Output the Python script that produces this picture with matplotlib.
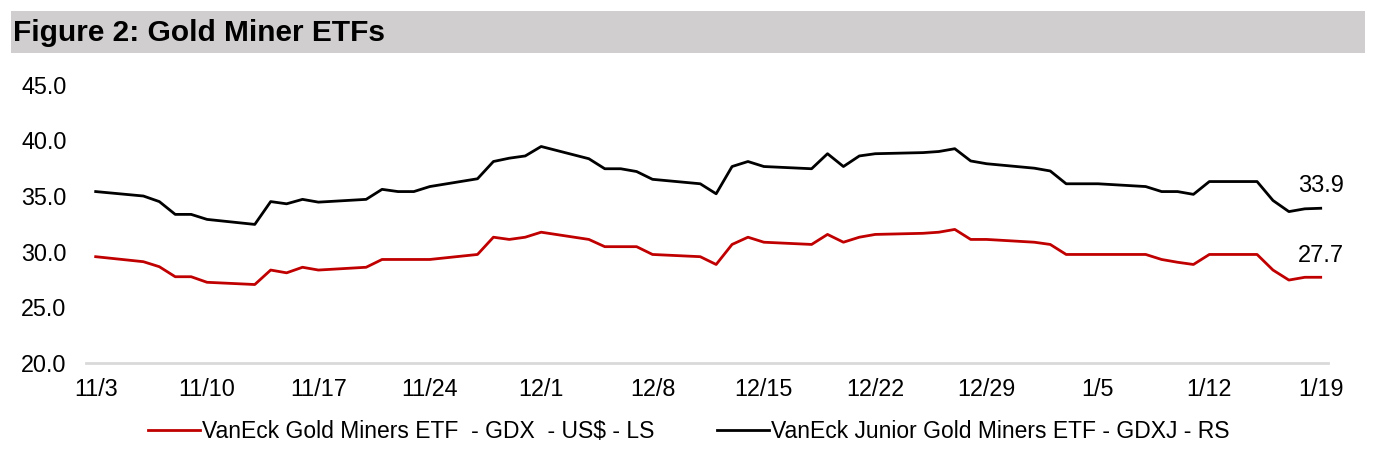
import matplotlib
matplotlib.use('Agg')
import matplotlib.pyplot as plt
from matplotlib.patches import Rectangle
import pandas as pd

plt.rcParams['font.family'] = ['Liberation Sans', 'DejaVu Sans']

dates = pd.bdate_range('2023-11-03', '2024-01-19')

gdx = [29.55, 29.1, 28.65, 27.75, 27.75, 27.25, 27.05, 28.35, 28.1, 28.6,
       28.35, 28.6, 29.3, 29.3, 29.3, 29.3, 29.75, 31.3, 31.1, 31.3,
       31.75, 31.1, 30.45, 30.45, 30.45, 29.75, 29.55, 28.85, 30.65, 31.3,
       30.85, 30.65, 31.55, 30.85, 31.3, 31.55, 31.65, 31.75, 32.0, 31.1,
       31.1, 30.85, 30.65, 29.75, 29.75, 29.75, 29.75, 29.3, 29.05, 28.85,
       29.75, 29.75, 28.35, 27.45, 27.7, 27.7]

gdxj = [35.4, 35.0, 34.5, 33.35, 33.35, 32.9, 32.45, 34.5, 34.3, 34.7,
        34.45, 34.7, 35.6, 35.4, 35.4, 35.85, 36.55, 38.1, 38.4, 38.6,
        39.45, 38.35, 37.45, 37.45, 37.2, 36.5, 36.1, 35.2, 37.65, 38.1,
        37.65, 37.45, 38.8, 37.65, 38.6, 38.8, 38.9, 39.0, 39.25, 38.15,
        37.9, 37.5, 37.25, 36.1, 36.1, 36.1, 35.85, 35.4, 35.4, 35.15,
        36.3, 36.3, 34.6, 33.6, 33.85, 33.9]

tick_dates = pd.date_range('2023-11-03', '2024-01-19', freq='7D')
tick_labels = ['11/3', '11/10', '11/17', '11/24', '12/1', '12/8', '12/15',
               '12/22', '12/29', '1/5', '1/12', '1/19']

labelGdx = 'VanEck Gold Miners ETF  - GDX  - US$ - LS'
labelGdxj = 'VanEck Junior Gold Miners ETF - GDXJ - RS'

fig = plt.figure(figsize=(13.75, 4.51), dpi=100)

# grey title band
fig.patches.append(Rectangle((11/1375, 1-53/451), 1354/1375, 42/451,
                             transform=fig.transFigure, facecolor='#D0CECE',
                             edgecolor='none', zorder=0))
fig.text(13/1375, 1-33/451, 'Figure 2: Gold Miner ETFs', fontsize=21.5,
         fontweight='bold', va='center', ha='left')

ax = fig.add_axes([86/1375, 88/451, (1328-86)/1375, (363-84.7)/451])

ax.plot(dates, gdx, color='#C00000', lw=2, label=labelGdx)
ax.plot(dates, gdxj, color='black', lw=2, label=labelGdxj)

ax.annotate('%.1f' % gdxj[-1], (dates[-1], gdxj[-1]), xytext=(0, 16),
            textcoords='offset points', ha='center', va='center', fontsize=17)
ax.annotate('%.1f' % gdx[-1], (dates[-1], gdx[-1]), xytext=(0, 15),
            textcoords='offset points', ha='center', va='center', fontsize=17)

ax.set_ylim(20, 45)
ax.set_yticks([20, 25, 30, 35, 40, 45])
ax.set_yticklabels(['%.1f' % v for v in [20, 25, 30, 35, 40, 45]])
ax.set_xlim(dates[0] - pd.Timedelta(hours=14.6), dates[-1] + pd.Timedelta(hours=11))
ax.set_xticks(tick_dates)
ax.set_xticklabels(tick_labels)

for s in ['top', 'right', 'left']:
    ax.spines[s].set_visible(False)
ax.spines['bottom'].set_color('#D9D9D9')
ax.spines['bottom'].set_linewidth(2)
ax.tick_params(axis='both', length=0, labelsize=16.8)
ax.tick_params(axis='y', pad=14)
ax.tick_params(axis='x', pad=11)

fig.legend(loc='center', bbox_to_anchor=(0.501, 1-432/451), ncol=2,
           frameon=False, fontsize=16.5, handlelength=2.27, handletextpad=0.1,
           columnspacing=2.7)

plt.savefig('out.png')
